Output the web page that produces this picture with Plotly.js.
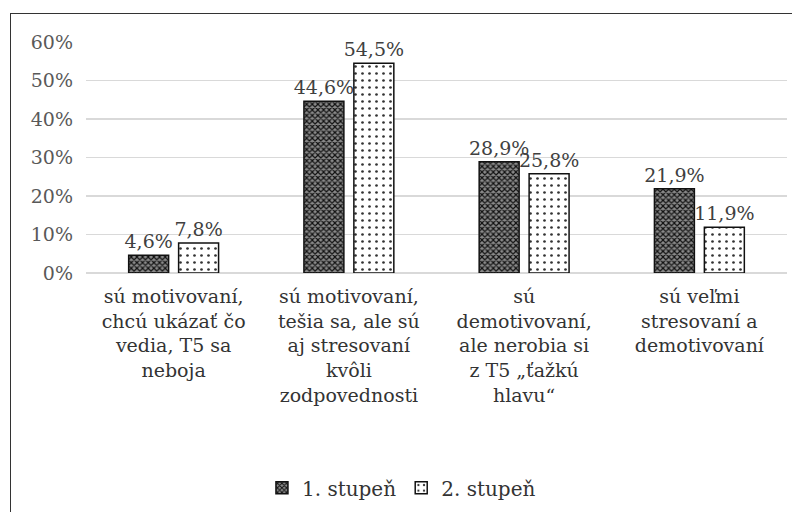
<!DOCTYPE html>
<html><head><meta charset="utf-8">
<script src="https://cdn.plot.ly/plotly-3.0.1.min.js"></script>
<style>
html,body{margin:0;padding:0;background:#fff;}
#wrap{position:relative;width:792px;height:512px;overflow:hidden;}
#chart{position:absolute;left:0;top:0;width:792px;height:512px;}
#frame{position:absolute;left:10px;top:13px;width:800px;height:520px;border-top:1.5px solid #333;border-left:1.5px solid #333;pointer-events:none;}
</style></head>
<body><div id="wrap"><div id="chart"></div><div id="frame"></div></div>
<script>
const categories = [
  "sú motivovaní,<br>chcú ukázať čo<br>vedia, T5 sa<br>neboja",
  "sú motivovaní,<br>tešia sa, ale sú<br>aj stresovaní<br>kvôli<br>zodpovednosti",
  "sú<br>demotivovaní,<br>ale nerobia si<br>z T5 „ťažkú<br>hlavu“",
  "sú veľmi<br>stresovaní a<br>demotivovaní"
];
const seriesNames = ["1. stupeň", "2. stupeň"];
const stupen1 = [4.6, 44.6, 28.9, 21.9];
const stupen2 = [7.8, 54.5, 25.8, 11.9];

const fmt = v => v.toFixed(1).replace('.', ',') + '%';
const font = "DejaVu Serif, serif";

const traces = [
  {
    type: 'bar', name: seriesNames[0], x: categories, y: stupen1,
    text: stupen1.map(fmt), textposition: 'outside', cliponaxis: false, constraintext: 'none',
    textfont: {family: font, size: 19, color: '#404040'},
    marker: {color: '#444', line: {color: '#111', width: 1.5},
      pattern: {shape: 'x', fgcolor: '#111', bgcolor: '#8a8a8a', size: 4, solidity: 0.5}},
    hoverinfo: 'none'
  },
  {
    type: 'bar', name: seriesNames[1], x: categories, y: stupen2,
    text: stupen2.map(fmt), textposition: 'outside', cliponaxis: false, constraintext: 'none',
    textfont: {family: font, size: 19, color: '#404040'},
    marker: {color: '#fff', line: {color: '#111', width: 1.5},
      pattern: {shape: '.', fgcolor: '#333', bgcolor: '#fff', size: 7, solidity: 0.12}},
    hoverinfo: 'none'
  }
];

const layout = {
  width: 792, height: 512,
  margin: {l: 86, r: 5, t: 42, b: 237},
  paper_bgcolor: 'rgba(0,0,0,0)', plot_bgcolor: 'rgba(0,0,0,0)',
  barmode: 'group', bargap: 0.43, bargroupgap: 0.2,
  showlegend: true,
  legend: {orientation: 'h', x: 0.45, xanchor: 'center', y: -0.93, yanchor: 'middle',
    font: {family: font, size: 20, color: '#333'}, itemwidth: 30, traceorder: 'normal'},
  xaxis: {tickfont: {family: font, size: 19, color: '#333'}, showline: false, showgrid: false,
    ticks: '', automargin: false, ticklabelstandoff: 10},
  yaxis: {range: [0, 60], dtick: 10, ticksuffix: '%', showline: false,
    gridcolor: '#d9d9d9', gridwidth: 1.5, zeroline: true, zerolinecolor: '#d9d9d9', zerolinewidth: 1.5,
    tickfont: {family: font, size: 19, color: '#595959'}, ticks: '', automargin: false, ticklabelstandoff: 12}
};

Plotly.newPlot('chart', traces, layout, {staticPlot: true, displayModeBar: false});
</script></body></html>
